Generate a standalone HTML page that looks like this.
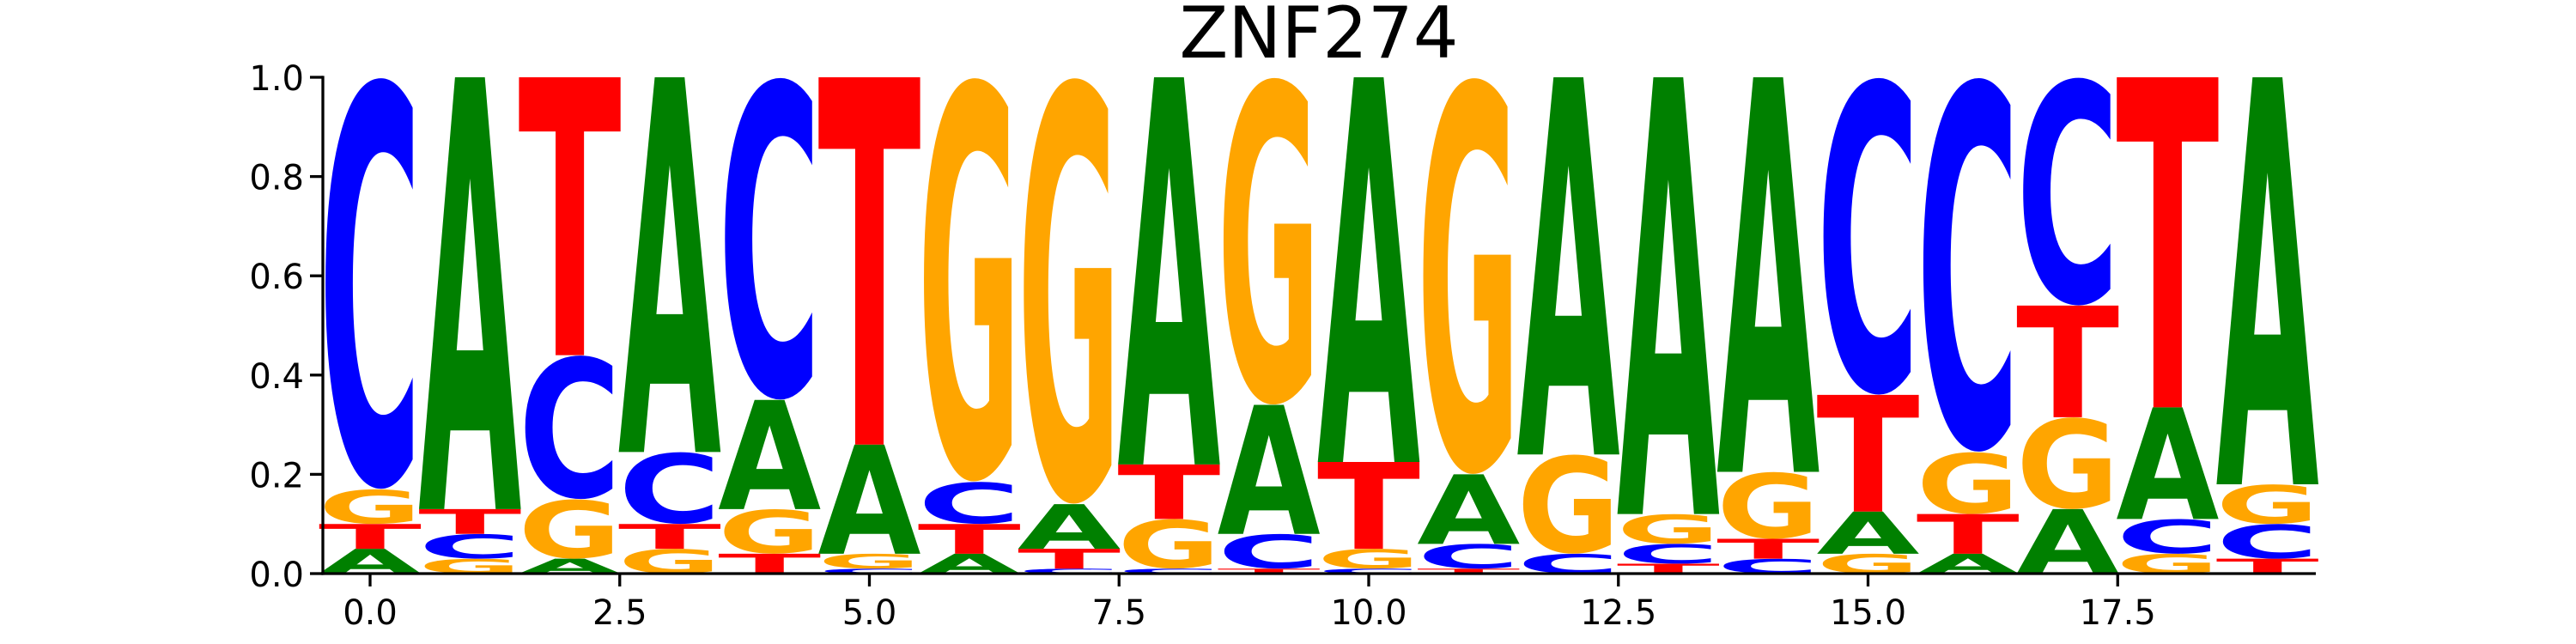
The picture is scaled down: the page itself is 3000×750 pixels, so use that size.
<!DOCTYPE html>
<html><head><meta charset="utf-8"><style>
html,body{margin:0;padding:0;background:#fff;}
svg{display:block;}
</style></head><body>
<svg id="chart" width="3000" height="750" viewBox="0 0 3000 750" xmlns="http://www.w3.org/2000/svg">
<text x="1536" y="67" text-anchor="middle" font-family="DejaVu Sans, Liberation Sans, sans-serif" font-size="83" fill="#000">ZNF274</text>
<g id="letters"></g>
<g id="axes"></g>
</svg>
<script>
// Per-position stacks, bottom to top: letters and heights
const positions = [0,1,2,3,4,5,6,7,8,9,10,11,12,13,14,15,16,17,18,19];
const stackLetters = [
 ["A","T","G","C"],["G","C","T","A"],["A","G","C","T"],["G","T","C","A"],
 ["T","G","A","C"],["C","G","A","T"],["A","T","C","G"],["C","T","A","G"],
 ["C","G","T","A"],["T","C","A","G"],["C","G","T","A"],["T","C","A","G"],
 ["C","G","A"],["T","C","G","A"],["C","T","G","A"],["G","A","T","C"],
 ["A","T","G","C"],["A","G","T","C"],["G","C","A","T"],["T","C","G","A"]
];
const stackHeights = [
 [0.05,0.05,0.07,0.83],[0.03,0.05,0.05,0.87],[0.03,0.12,0.29,0.56],[0.05,0.05,0.145,0.755],
 [0.04,0.09,0.22,0.65],[0.01,0.03,0.22,0.74],[0.04,0.06,0.085,0.815],[0.01,0.04,0.09,0.86],
 [0.01,0.10,0.11,0.78],[0.01,0.07,0.26,0.66],[0.01,0.04,0.175,0.775],[0.01,0.05,0.14,0.80],
 [0.04,0.20,0.76],[0.02,0.04,0.06,0.88],[0.03,0.04,0.135,0.795],[0.04,0.085,0.235,0.64],
 [0.04,0.08,0.125,0.755],[0.13,0.185,0.225,0.46],[0.04,0.07,0.225,0.665],[0.03,0.07,0.08,0.82]
];
const yTicks = [0,0.2,0.4,0.6,0.8,1.0];
const yTickLabels = ["0.0","0.2","0.4","0.6","0.8","1.0"];
const xTicks = [0,2.5,5,7.5,10,12.5,15,17.5];
const xTickLabels = ["0.0","2.5","5.0","7.5","10.0","12.5","15.0","17.5"];

const colors = {A:"#008000",C:"#0000ff",G:"#ffa500",T:"#ff0000"};
const X0 = 431, XU = 116.3, Y0 = 668, YU = 578;
const xs = v => X0 + v*XU;
const ys = v => Y0 - v*YU;
const NS = "http://www.w3.org/2000/svg";
const lg = document.getElementById('letters');
const ax = document.getElementById('axes');
const lw = 0.95;

positions.forEach((p,i) => {
  let base = 0;
  stackLetters[i].forEach((L,j) => {
    const h = stackHeights[i][j];
    const t = document.createElementNS(NS,'text');
    
    
    t.setAttribute('font-family','DejaVu Sans, Liberation Sans, sans-serif');
    t.setAttribute('font-weight','bold');
    t.setAttribute('font-size','100');
    t.setAttribute('fill', colors[L]);
    t.setAttribute('x','0'); t.setAttribute('y','0');
    t.textContent = L;
    lg.appendChild(t);
    const bb = t.getBBox();
    const round = (L === 'C' || L === 'G');
    const top = round ? 74.4 : 72.9, bot = round ? -1.5 : 0;
    const gh = top - bot, gw = bb.width*0.92, gx = bb.x + bb.width*0.04;
    const x0 = xs(p - lw/2), x1 = xs(p + lw/2);
    const yb = ys(base), yt = ys(base + h);
    const sx = (x1 - x0)/gw, sy = (yb - yt)/gh;
    t.setAttribute('transform', `translate(${x0 - gx*sx},${yb + bot*sy}) scale(${sx},${sy})`);
    base += h;
  });
});

function line(x1,y1,x2,y2,name){
  const l = document.createElementNS(NS,'line');
  l.setAttribute('x1',x1);l.setAttribute('y1',y1);l.setAttribute('x2',x2);l.setAttribute('y2',y2);
  l.setAttribute('stroke','#000');l.setAttribute('stroke-width','3.3');
  
  
  ax.appendChild(l);
}
function label(x,y,s,anchor,name){
  const t = document.createElementNS(NS,'text');
  t.setAttribute('x',x);t.setAttribute('y',y);t.setAttribute('text-anchor',anchor);
  t.setAttribute('font-family','DejaVu Sans, Liberation Sans, sans-serif');
  t.setAttribute('font-size','40');t.setAttribute('fill','#000');
  t.textContent = s;
  
  
  ax.appendChild(t);
}
const spineX = 376, rightX = 2697;
line(spineX, ys(1)-1.6, spineX, Y0+1.6, 'y-axis-spine');
line(spineX-1.6, Y0, rightX, Y0, 'x-axis-spine');
yTicks.forEach((v,i) => {
  line(spineX-15, ys(v), spineX, ys(v), 'y-tick');
  label(spineX-22, ys(v)+15, yTickLabels[i], 'end', 'y-tick-label');
});
xTicks.forEach((v,i) => {
  line(xs(v), Y0, xs(v), Y0+15, 'x-tick');
  label(xs(v), 727, xTickLabels[i], 'middle', 'x-tick-label');
});
</script>
</body></html>
